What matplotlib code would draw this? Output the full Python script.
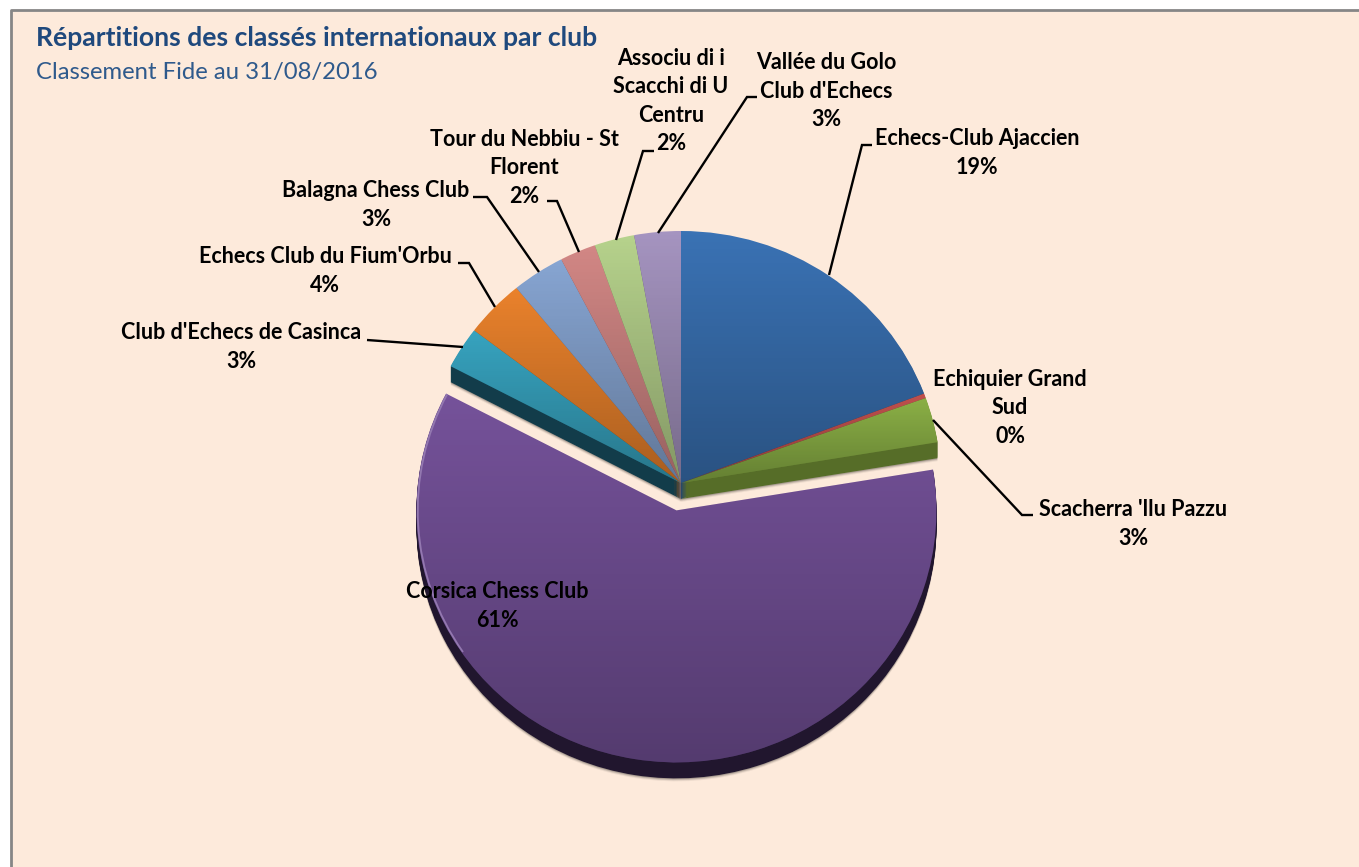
import numpy as np
import matplotlib
matplotlib.use("Agg")
from matplotlib import pyplot as plt
from matplotlib.colors import to_rgb
from matplotlib.patches import Arc

plt.rcParams['font.family'] = ['Lato', 'DejaVu Sans']

clubs = ["Echecs-Club Ajaccien", "Echiquier Grand\nSud", "Scacherra 'llu Pazzu",
         "Corsica Chess Club", "Club d'Echecs de Casinca", "Echecs Club du Fium'Orbu",
         "Balagna Chess Club", "Tour du Nebbiu - St\nFlorent",
         "Associu di i\nScacchi di U\nCentru", "Vallée du Golo\nClub d'Echecs"]
shares = [19.3, 0.3, 2.9, 60.5, 2.7, 3.75, 3.3, 2.25, 2.5, 2.9]
shown_pct = ["19%", "0%", "3%", "61%", "3%", "4%", "3%", "2%", "2%", "3%"]

top_colors = ["#3a72b4", "#c0504d", "#8bb046", "#75529a", "#37a3bf",
              "#ea822c", "#87a5d2", "#d28785", "#b6d28c", "#a594c0"]
side_colors = ["#24476f", "#7a302e", "#566d28", "#21162e", "#123c4a",
               "#8a4c18", "#54688a", "#8a5553", "#72825a", "#66597c"]

W, H = 1359, 867
BG = "#fdeadb"
CX, CY, RX, RY = 681, 483, 260, 252   # pie centre and radii, pixels
DEPTH = 16

# label centres (pixels) and leader lines
label_pos = [(977, 153), (1010, 408), (1133, 524), (497, 606), (241, 347),
             (325, 271), (376, 205), (524, 168), (671, 101), (826, 91)]
leaders = [[(872, 145), (862, 145), (829, 275)],
           [(1033, 515), (1022, 515), (933, 420)],
           [(367, 340), (463, 347)],
           [(458, 263), (469, 263), (495, 307)],
           [(473, 197), (487, 197), (539, 272)],
           [(547, 201), (557, 201), (579, 252)],
           [(654, 151), (643, 151), (616, 240)],
           [(757, 97), (747, 97), (658, 233)]]

fig = plt.figure(figsize=(W / 100, H / 100), dpi=100, facecolor="white")

bg_ax = fig.add_axes([0, 0, 1, 1])
bg_ax.set_xlim(0, W)
bg_ax.set_ylim(H, 0)
bg_ax.axis("off")
bg_ax.fill([11, W, W, 11], [10, 10, H, H], color=BG, zorder=0)
bg_ax.plot([11, 11, W], [H, 10, 10], color="#868686", lw=2, zorder=1)

# pie axes, a bit wider than tall like the 3-D original
LIM = 1.3
ax = fig.add_axes([(CX - LIM * RX) / W, 1 - (CY + LIM * RY) / H,
                   2 * LIM * RX / W, 2 * LIM * RY / H], zorder=2)
explode = [0.11 if s == max(shares) else 0 for s in shares]

# soft shadow, then the side wall, deepest layer first
for k, a in [(DEPTH + 3, 0.06), (DEPTH + 2, 0.12), (DEPTH + 1, 0.18)]:
    w, _ = ax.pie(shares, explode=explode, colors=["#000000"] * len(shares), startangle=90,
                  counterclock=False, center=(0, -k / RY), frame=True)
    for p in w:
        p.set_alpha(a)
for k in range(DEPTH, 0, -1):
    ax.pie(shares, explode=explode, colors=side_colors, startangle=90,
           counterclock=False, center=(0, -k / RY), frame=True)

wedges, _ = ax.pie(shares, explode=explode, colors=top_colors, startangle=90,
                   counterclock=False, frame=True)

# vertical shading on each slice, light rim on the left-hand ones
shade = np.zeros((256, 1, 4))
shade[:, 0, 3] = np.linspace(0, 0.28, 256)
for wedge, col in zip(wedges, top_colors):
    box = wedge.get_path().get_extents(wedge.get_patch_transform())
    im = ax.imshow(shade, extent=(-1.2, 1.2, box.y0, box.y1), origin="upper",
                   aspect="auto", zorder=wedge.get_zorder() + 0.1)
    im.set_clip_path(wedge)
    t1, t2 = wedge.theta1, wedge.theta2
    if t2 - t1 > 150:
        t2 = t1 + 62   # only the left flank of the big slice catches light
    elif (t1 + t2) / 2 < 90:
        continue
    light = tuple(c + (1 - c) * 0.22 for c in to_rgb(col))
    ax.add_patch(Arc(wedge.center, 2 * 0.995, 2 * 0.995, theta1=t1, theta2=t2,
                     color=light, lw=1.3, zorder=wedge.get_zorder() + 0.2))

ax.set_aspect("auto")
ax.set_xlim(-LIM, LIM)
ax.set_ylim(-LIM, LIM)
ax.axis("off")

# text and leaders on top
fg_ax = fig.add_axes([0, 0, 1, 1], zorder=3)
fg_ax.set_xlim(0, W)
fg_ax.set_ylim(H, 0)
fg_ax.axis("off")

for line in leaders:
    xs, ys = zip(*line)
    fg_ax.plot(xs, ys, color="black", lw=1.7, solid_capstyle="butt", solid_joinstyle="miter")

for name, pct, (x, y) in zip(clubs, shown_pct, label_pos):
    fg_ax.text(x, y, name + "\n" + pct, ha="center", va="center", fontsize=15.5,
               fontweight="bold", color="black", linespacing=1.45)

fg_ax.text(36, 38, "Répartitions des classés internationaux par club", ha="left", va="center",
           fontsize=19.1, fontweight="bold", color="#1f497d")
fg_ax.text(36, 72, "Classement Fide au 31/08/2016", ha="left", va="center",
           fontsize=17.2, color="#2f5a8c")

fig.savefig("out.png", dpi=100, facecolor="white")
